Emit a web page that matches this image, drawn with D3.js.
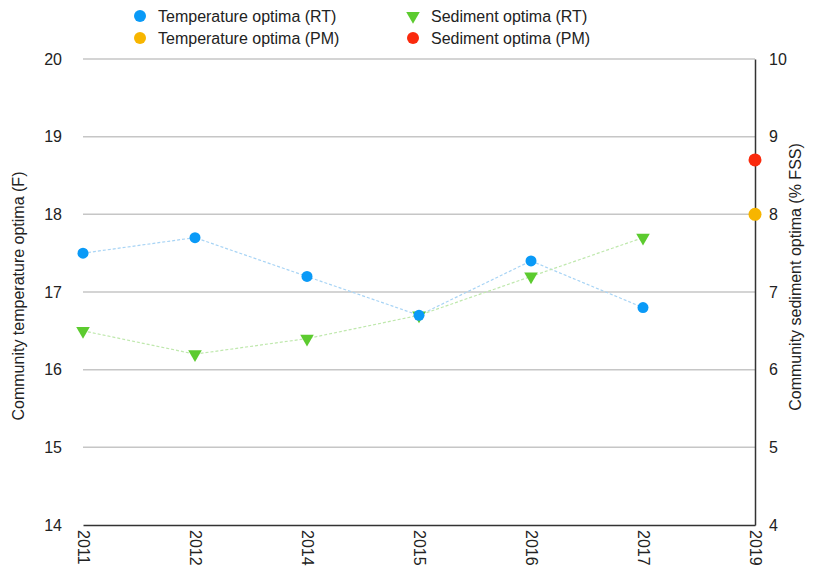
<!DOCTYPE html>
<html>
<head>
<meta charset="utf-8">
<script src="https://cdn.jsdelivr.net/npm/d3@7"></script>
<style>
  body { margin: 0; background: #fff; }
  svg { font-family: "Liberation Sans", Arial, sans-serif; }
</style>
</head>
<body>
<svg id="chart" width="831" height="579"></svg>
<script>
const years = ["2011", "2012", "2014", "2015", "2016", "2017", "2019"];
const tempRT = [["2011", 17.5], ["2012", 17.7], ["2014", 17.2], ["2015", 16.7], ["2016", 17.4], ["2017", 16.8]];
const sedRT = [["2011", 6.5], ["2012", 6.2], ["2014", 6.4], ["2015", 6.7], ["2016", 7.2], ["2017", 7.7]];
const tempPM = [["2019", 18.0]];
const sedPM = [["2019", 8.7]];
const leftTicks = [14, 15, 16, 17, 18, 19, 20];
const rightTicks = [4, 5, 6, 7, 8, 9, 10];

const margin = { top: 59, right: 76, bottom: 54, left: 83 };
const width = 831, height = 579;
const svg = d3.select("#chart");

const x = d3.scalePoint().domain(years).range([margin.left, width - margin.right]);
const yL = d3.scaleLinear().domain([14, 20]).range([height - margin.bottom, margin.top]);
const yR = d3.scaleLinear().domain([4, 10]).range([height - margin.bottom, margin.top]);

// gridlines
svg.append("g")
  .selectAll("line")
  .data(leftTicks.slice(1))
  .enter().append("line")
  .attr("x1", margin.left).attr("x2", width - margin.right)
  .attr("y1", d => yL(d)).attr("y2", d => yL(d))
  .attr("stroke", "#c6c6c6").attr("stroke-width", 1.5);

// left axis (labels only)
const axL = svg.append("g")
  .attr("transform", `translate(${margin.left},0)`)
  .call(d3.axisLeft(yL).tickValues(leftTicks).tickFormat(d3.format("d")).tickSize(0).tickPadding(21));
axL.select(".domain").remove();
axL.selectAll("text").attr("font-size", 16).attr("fill", "#222").style("font-family", "Liberation Sans, Arial, sans-serif");

// right axis
const axR = svg.append("g")
  .attr("transform", `translate(${width - margin.right},0)`)
  .call(d3.axisRight(yR).tickValues(rightTicks).tickFormat(d3.format("d")).tickSize(0).tickPadding(14));
axR.select(".domain").attr("stroke", "#333").attr("stroke-width", 1.5);
axR.selectAll("text").attr("font-size", 16).attr("fill", "#222").style("font-family", "Liberation Sans, Arial, sans-serif");

// bottom axis
const axB = svg.append("g")
  .attr("transform", `translate(0,${height - margin.bottom})`)
  .call(d3.axisBottom(x).tickSize(0).tickPadding(0));
axB.select(".domain").attr("stroke", "#333").attr("stroke-width", 1.5);
axB.selectAll("text")
  .attr("font-size", 16).attr("fill", "#222")
  .style("font-family", "Liberation Sans, Arial, sans-serif")
  .attr("text-anchor", "start")
  .attr("dy", "0.35em")
  .attr("transform", "translate(0,5) rotate(90)");

// axis titles
svg.append("text")
  .attr("transform", `translate(24,${(margin.top + height - margin.bottom) / 2 + 4}) rotate(-90)`)
  .attr("text-anchor", "middle").attr("font-size", 16).attr("fill", "#222")
  .text("Community temperature optima (F)");
svg.append("text")
  .attr("transform", `translate(801,${(margin.top + height - margin.bottom) / 2 - 15}) rotate(-90)`)
  .attr("text-anchor", "middle").attr("font-size", 16).attr("fill", "#222")
  .text("Community sediment optima (% FSS)");

// connecting lines
svg.append("path")
  .datum(tempRT)
  .attr("fill", "none").attr("stroke", "#a8d4f5").attr("stroke-width", 1.2)
  .attr("stroke-dasharray", "3,2")
  .attr("d", d3.line().x(d => x(d[0])).y(d => yL(d[1])));
svg.append("path")
  .datum(sedRT)
  .attr("fill", "none").attr("stroke", "#bfe8ad").attr("stroke-width", 1.2)
  .attr("stroke-dasharray", "3,2")
  .attr("d", d3.line().x(d => x(d[0])).y(d => yR(d[1])));

const tri = d3.symbol().type(d3.symbolTriangle).size(80);

// sediment RT triangles (pointing down)
svg.append("g").selectAll("path")
  .data(sedRT).enter().append("path")
  .attr("d", tri)
  .attr("transform", d => `translate(${x(d[0])},${yR(d[1])}) rotate(180)`)
  .attr("fill", "#5ccb2f");

// temperature RT circles
svg.append("g").selectAll("circle")
  .data(tempRT).enter().append("circle")
  .attr("cx", d => x(d[0])).attr("cy", d => yL(d[1])).attr("r", 5.5)
  .attr("fill", "#0a9af7");

svg.append("g").selectAll("circle")
  .data(tempPM).enter().append("circle")
  .attr("cx", d => x(d[0])).attr("cy", d => yL(d[1])).attr("r", 6.5)
  .attr("fill", "#f7b500");

svg.append("g").selectAll("circle")
  .data(sedPM).enter().append("circle")
  .attr("cx", d => x(d[0])).attr("cy", d => yR(d[1])).attr("r", 6.5)
  .attr("fill", "#fa2a0d");

// legend
const legend = [
  { label: "Temperature optima (RT)", color: "#0a9af7", shape: "circle", lx: 140, ly: 16 },
  { label: "Temperature optima (PM)", color: "#f7b500", shape: "circle", lx: 140, ly: 38 },
  { label: "Sediment optima (RT)", color: "#5ccb2f", shape: "tri", lx: 413, ly: 16 },
  { label: "Sediment optima (PM)", color: "#fa2a0d", shape: "circle", lx: 413, ly: 38 }
];
const lg = svg.append("g").selectAll("g").data(legend).enter().append("g")
  .attr("transform", d => `translate(${d.lx},${d.ly})`);
lg.each(function (d) {
  const g = d3.select(this);
  if (d.shape === "circle") {
    g.append("circle").attr("r", 6).attr("fill", d.color);
  } else {
    g.append("path").attr("d", tri).attr("transform", "rotate(180)").attr("fill", d.color);
  }
  g.append("text").attr("x", 18).attr("dy", "0.35em")
    .attr("font-size", 16).attr("fill", "#222").text(d.label);
});
</script>
</body>
</html>
